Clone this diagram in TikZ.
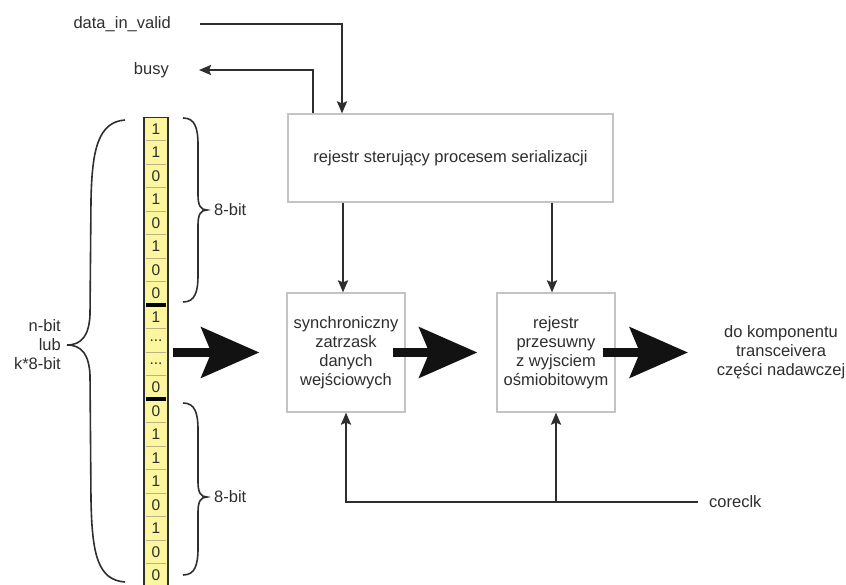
\documentclass[tikz,border=0pt]{standalone}
\usepackage{fontspec}
\setmainfont{Liberation Sans}
\usetikzlibrary{arrows.meta}
\definecolor{ink}{HTML}{2E2E2E}
\definecolor{boxline}{HTML}{C4C4C4}
\definecolor{bitfill}{HTML}{FCF69E}
\definecolor{bitline}{HTML}{B8B284}
\newcommand{\bitdots}{...}
\begin{document}
\begin{tikzpicture}[x=1pt,y=-1pt,
  lbl/.style={font=\fontsize{16.5}{19}\selectfont, text=ink, inner sep=0pt, align=center},
  blk/.style={draw=boxline, line width=1.2pt, fill=white, inner sep=0pt, font=\fontsize{16.5}{19}\selectfont, text=ink, align=center},
  conn/.style={draw=ink, line width=2.2pt, -{Stealth[length=12pt,width=10pt,inset=2pt]}},
  fat/.style={draw=black!93, line width=9pt, -{Stealth[length=58pt,width=50pt,inset=10pt]}},
  brc/.style={draw=ink, line width=1.6pt},
  bit/.style={font=\fontsize{15.5}{15.5}\selectfont, text=ink, inner sep=0pt}]
\useasboundingbox (0,0) rectangle (846,585);
\clip (0,0) rectangle (846,585);

% bit column
\node[draw=ink, line width=1.2pt, fill=bitfill, minimum width=24pt, minimum height=470pt, inner sep=0pt, anchor=north] (col) at (156,117) {};
\foreach \i in {1,...,19}
  \draw[bitline, line width=0.8pt] (146,{117+\i*23.5}) -- (166,{117+\i*23.5});
\draw[black, line width=3.5pt] (146,305) -- (166,305);
\draw[black, line width=3.5pt] (146,399) -- (166,399);
\foreach \d [count=\i] in {1,1,0,1,0,1,0,0,1,\bitdots,\bitdots,0,0,1,1,1,0,1,0,0}
  \node[bit] (bit\i) at (156,{117+(\i-0.5)*23.5}) {\d};

% braces
\draw[brc] (125,120) .. controls (98,122) and (92,150) .. (91,200) -- (90,315)
  .. controls (89,335) and (82,345) .. (67,345)
  .. controls (82,345) and (89,355) .. (90,375) -- (91,500)
  .. controls (92,555) and (98,580) .. (125,582);
\draw[brc] (183,118) .. controls (195,118) and (198,128) .. (198,145) -- (198,195)
  .. controls (198,206) and (201,210) .. (207,210)
  .. controls (201,210) and (198,214) .. (198,225) -- (198,275)
  .. controls (198,292) and (195,302) .. (183,302);
\draw[brc] (183,403) .. controls (195,403) and (198,413) .. (198,430) -- (198,482)
  .. controls (198,493) and (201,497) .. (207,497)
  .. controls (201,497) and (198,501) .. (198,512) -- (198,548)
  .. controls (198,565) and (195,575) .. (183,575);
\node[lbl, anchor=west] (eightA) at (214,210) {8-bit};
\node[lbl, anchor=west] (eightB) at (214,497) {8-bit};
\node[lbl, anchor=east, align=right] (nbit) at (61,345) {n-bit\\lub\\k*8-bit};

% blocks
\node[blk, minimum width=325pt, minimum height=88pt] (ctrl) at (450.5,158) {rejestr sterujący procesem serializacji};
\node[blk, minimum width=118pt, minimum height=119pt] (latch) at (346,352.5) {synchroniczny\\zatrzask\\danych\\wejściowych};
\node[blk, minimum width=118pt, minimum height=119pt] (shift) at (556,352.5) {rejestr\\przesuwny\\z wyjsciem\\ośmiobitowym};

% labels
\node[lbl, anchor=east] (din) at (171,24) {data\_in\_valid};
\node[lbl, anchor=east] (busy) at (169,70) {busy};
\node[lbl, anchor=west] (clk) at (709,502) {coreclk};
\node[lbl] (out) at (781,352) {do komponentu\\transceivera\\części nadawczej};
\coordinate (outtip) at (688,352.5);

% control signals
\draw[conn, shorten <=29pt] (din.east) -| ([xshift=-108.5pt]ctrl.north);
\draw[conn, shorten >=30pt] ([xshift=-137.5pt]ctrl.north) |- (busy.east);
\draw[conn] ([xshift=-107.5pt]ctrl.south) -- ([xshift=-3pt]latch.north);
\draw[conn] ([xshift=101.5pt]ctrl.south) -- ([xshift=-4pt]shift.north);

% clock
\draw[conn, shorten <=11pt] (clk.west) -| (latch.south);
\draw[conn] (shift.south |- clk.west) -- (shift.south);

% data flow
\draw[fat, shorten <=4pt, shorten >=27pt] (col.east |- latch.west) -- (latch.west);
\draw[fat, shorten >=19pt] ([xshift=-13pt]latch.east) -- (shift.west);
\draw[fat] ([xshift=-13pt]shift.east) -- (outtip);
\end{tikzpicture}
\end{document}
